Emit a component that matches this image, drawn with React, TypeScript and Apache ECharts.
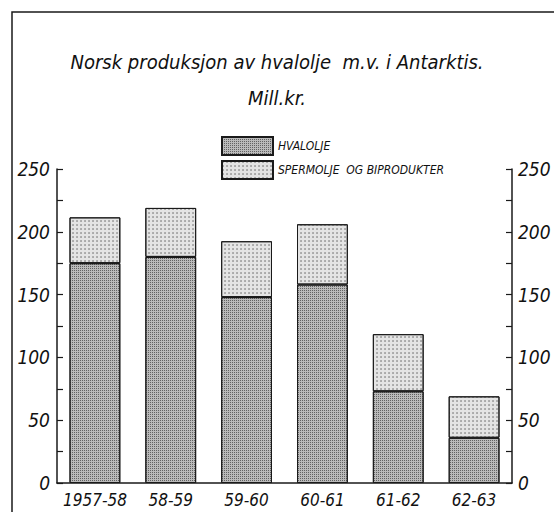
import React, { useEffect, useRef } from "react";
import * as echarts from "echarts";

const categories = ["1957-58", "58-59", "59-60", "60-61", "61-62", "62-63"];
const hvalolje = [175, 180, 148, 158, 73, 36];
const spermolje = [36.5, 39, 44.5, 48, 45.5, 33];
const seriesNames = ["HVALOLJE", "SPERMOLJE  OG BIPRODUKTER"];
const titleText = "Norsk produksjon av hvalolje  m.v. i Antarktis.";
const subtitleText = "Mill.kr.";

const NARROW = "'Liberation Sans Narrow', 'DejaVu Sans Condensed', 'Liberation Sans', sans-serif";
const AXISFONT = "'DejaVu Sans Condensed', 'DejaVu Sans', sans-serif";

export default function App() {
  const ref = useRef<HTMLDivElement>(null);
  useEffect(() => {
    document.body.style.margin = "0";
    const chart = echarts.init(ref.current!, null, { renderer: "svg" });
    const yAxisBase = {
      type: "value",
      min: 0,
      max: 250,
      interval: 50,
      splitLine: { show: false },
      axisLine: { show: true, lineStyle: { color: "#1a1a1a", width: 1.5 } },
      axisTick: { show: true, inside: true, length: 6, lineStyle: { color: "#1a1a1a", width: 1.2 } },
      minorTick: { show: true, splitNumber: 2, length: 6, lineStyle: { color: "#1a1a1a", width: 1.2 } },
      axisLabel: { fontFamily: AXISFONT, fontSize: 19, fontStyle: "italic", color: "#111" },
    };
    chart.setOption({
      animation: false,
      backgroundColor: "#fff",
      title: [
        {
          text: titleText,
          left: "center",
          top: 47,
          textStyle: { fontFamily: NARROW, fontSize: 20, fontStyle: "italic", fontWeight: "normal", color: "#111" },
        },
        {
          text: subtitleText,
          left: "center",
          top: 83,
          textStyle: { fontFamily: NARROW, fontSize: 20, fontStyle: "italic", fontWeight: "normal", color: "#111" },
        },
      ],
      legend: {
        orient: "vertical",
        left: 221,
        top: 136,
        padding: 0,
        itemWidth: 51,
        itemHeight: 18,
        itemGap: 4,
        icon: "rect",
        textStyle: { fontFamily: NARROW, fontSize: 12, fontStyle: "italic", color: "#111" },
        data: seriesNames,
      },
      grid: { left: 57, right: 42, top: 169, bottom: 29 },
      xAxis: {
        type: "category",
        data: categories,
        axisLine: { show: true, lineStyle: { color: "#1a1a1a", width: 1.5 } },
        axisTick: { show: false },
        axisLabel: { interval: 0, fontFamily: AXISFONT, fontSize: 17, fontStyle: "italic", color: "#111", margin: 8 },
      },
      yAxis: [
        { ...yAxisBase, position: "left", axisLabel: { ...yAxisBase.axisLabel, margin: 7 } },
        { ...yAxisBase, position: "right", axisLabel: { ...yAxisBase.axisLabel, margin: 6 } },
      ],
      series: [
        {
          name: seriesNames[0],
          type: "bar",
          stack: "total",
          barWidth: "67%",
          data: hvalolje,
          itemStyle: {
            color: "#bababa",
            borderColor: "#1a1a1a",
            borderWidth: 1,
            decal: {
              symbol: "rect",
              symbolSize: 1,
              dashArrayX: [1, 1],
              dashArrayY: [1, 1],
              color: "rgba(40,40,40,0.6)",
            },
          },
        },
        {
          name: seriesNames[1],
          type: "bar",
          stack: "total",
          barWidth: "67%",
          data: spermolje,
          itemStyle: {
            color: "#e4e4e4",
            borderColor: "#1a1a1a",
            borderWidth: 1,
            decal: {
              symbol: "circle",
              symbolSize: 0.7,
              dashArrayX: [2, 2],
              dashArrayY: [2, 2],
              color: "rgba(30,30,30,0.7)",
            },
          },
        },
      ],
      graphic: [
        {
          type: "rect",
          shape: { x: 12, y: 12, width: 620, height: 620 },
          style: { fill: "none", stroke: "#1a1a1a", lineWidth: 1.5 },
          silent: true,
        },
      ],
    });
    return () => chart.dispose();
  }, []);
  return <div ref={ref} style={{ width: 554, height: 512 }} />;
}
